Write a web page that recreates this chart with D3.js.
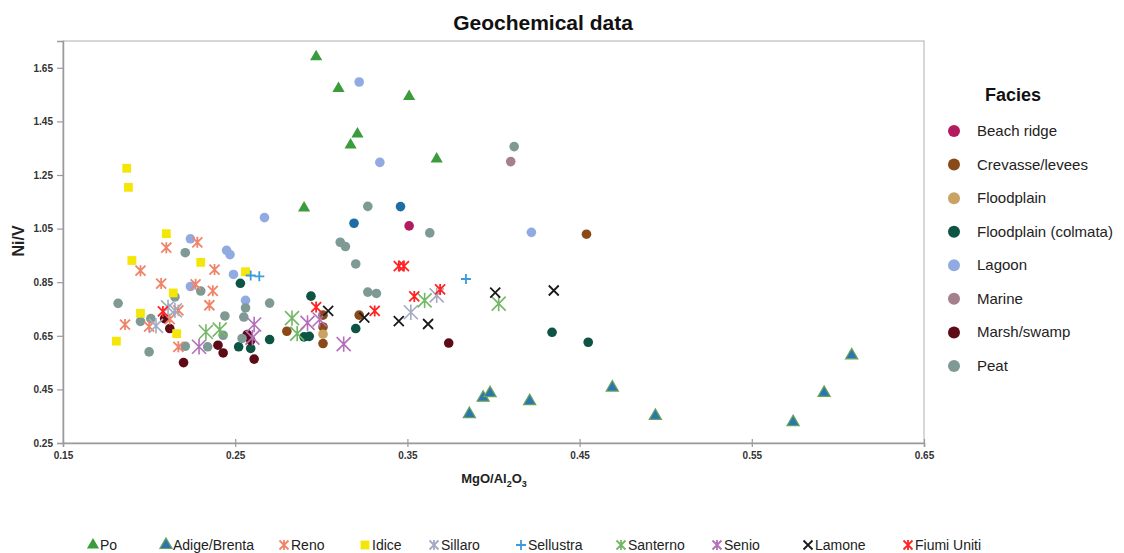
<!DOCTYPE html>
<html>
<head>
<meta charset="utf-8">
<script src="https://cdn.jsdelivr.net/npm/d3@7"></script>
<style>
  html, body { margin: 0; padding: 0; background: #fff; }
  svg { display: block; font-family: "Liberation Sans", Arial, sans-serif; }
</style>
</head>
<body>
<svg id="chart" width="1124" height="553"></svg>
<script>
// ── Data (MgO/Al2O3, Ni/V) ─────────────────────────────
const beachRidge = [[0.351, 1.060]];
const crevasse = [[0.280, 0.667], [0.301, 0.727], [0.322, 0.727], [0.301, 0.683], [0.301, 0.621], [0.454, 1.029]];
const floodplain = [[0.301, 0.656]];
const colmata = [[0.294, 0.798], [0.290, 0.646], [0.293, 0.648], [0.320, 0.677], [0.270, 0.636],
    [0.434, 0.663], [0.455, 0.626], [0.252, 0.609], [0.259, 0.603], [0.253, 0.846]];
const lagoon = [[0.322, 1.597], [0.334, 1.297], [0.267, 1.091], [0.224, 1.012], [0.245, 0.969],
    [0.247, 0.953], [0.249, 0.879], [0.224, 0.834], [0.256, 0.782], [0.422, 1.036]];
const lagoonDark = [[0.346, 1.132], [0.319, 1.070]];
const marine = [[0.410, 1.300]];
const marsh = [[0.220, 0.550], [0.243, 0.586], [0.240, 0.615], [0.261, 0.563], [0.257, 0.655],
    [0.259, 0.633], [0.212, 0.677], [0.209, 0.714], [0.374, 0.623]];
const peat = [[0.221, 0.960], [0.182, 0.771], [0.215, 0.795], [0.230, 0.817], [0.270, 0.772],
    [0.256, 0.754], [0.244, 0.724], [0.255, 0.720], [0.195, 0.704], [0.201, 0.714], [0.243, 0.652],
    [0.221, 0.611], [0.200, 0.590], [0.234, 0.609], [0.254, 0.640], [0.311, 0.999], [0.314, 0.983],
    [0.320, 0.918], [0.327, 0.813], [0.332, 0.808], [0.327, 1.133], [0.412, 1.356], [0.363, 1.034]];

const po = [[0.297, 1.691], [0.310, 1.573], [0.351, 1.543], [0.321, 1.403], [0.317, 1.362],
    [0.367, 1.310], [0.290, 1.127]];
const adigeBrenta = [[0.386, 0.358], [0.394, 0.419], [0.398, 0.436], [0.421, 0.406], [0.469, 0.457],
    [0.494, 0.351], [0.574, 0.328], [0.592, 0.437], [0.608, 0.577]];
const reno = [[0.228, 0.999], [0.210, 0.979], [0.195, 0.893], [0.238, 0.897], [0.207, 0.845],
    [0.227, 0.842], [0.237, 0.818], [0.235, 0.764], [0.186, 0.692], [0.200, 0.684], [0.217, 0.745],
    [0.217, 0.609], [0.212, 0.712]];
const idice = [[0.187, 1.275], [0.188, 1.204], [0.210, 1.031], [0.190, 0.931], [0.230, 0.924],
    [0.256, 0.889], [0.214, 0.810], [0.195, 0.734], [0.216, 0.658], [0.181, 0.630]];
const sillaro = [[0.204, 0.687], [0.211, 0.756], [0.215, 0.745], [0.352, 0.738], [0.367, 0.801]];
const sellustra = [[0.259, 0.875], [0.264, 0.872], [0.384, 0.862]];
const santerno = [[0.233, 0.664], [0.241, 0.673], [0.283, 0.716], [0.286, 0.658], [0.360, 0.782], [0.403, 0.770]];
const senio = [[0.229, 0.609], [0.261, 0.692], [0.260, 0.643], [0.292, 0.698], [0.299, 0.711], [0.313, 0.619]];
const lamone = [[0.304, 0.743], [0.325, 0.718], [0.345, 0.705], [0.362, 0.694], [0.401, 0.811], [0.435, 0.819]];
const fiumiUniti = [[0.345, 0.910], [0.348, 0.910], [0.297, 0.757], [0.331, 0.743], [0.354, 0.797],
    [0.369, 0.823], [0.208, 0.741]];

const xTicks = [0.15, 0.25, 0.35, 0.45, 0.55, 0.65];
const yTicks = [0.25, 0.45, 0.65, 0.85, 1.05, 1.25, 1.45, 1.65];

// ── Series definitions ─────────────────────────────
const facies = [
    { name: 'Beach ridge', data: beachRidge, color: '#b31b5f' },
    { name: 'Crevasse/levees', data: crevasse, color: '#8a4a17' },
    { name: 'Floodplain', data: floodplain, color: '#c9a264' },
    { name: 'Floodplain (colmata)', data: colmata, color: '#0d5445' },
    { name: 'Lagoon', data: lagoon, color: '#91abe2' },
    { name: 'Marine', data: marine, color: '#a3808c' },
    { name: 'Marsh/swamp', data: marsh, color: '#5e0b15' },
    { name: 'Peat', data: peat, color: '#7f9994' }
];
const extraDots = [
    { data: lagoonDark, color: '#1f6ea3' }
];
const rivers = [
    { name: 'Po', data: po, shape: 'tri', color: '#3b9c3c' },
    { name: 'Adige/Brenta', data: adigeBrenta, shape: 'tri', color: '#2a76ae', stroke: '#6aa25a' },
    { name: 'Reno', data: reno, shape: 'star', color: '#f08468', r: 5 },
    { name: 'Idice', data: idice, shape: 'square', color: '#f5e60a' },
    { name: 'Sillaro', data: sillaro, shape: 'star', color: '#a3abc3', r: 7 },
    { name: 'Sellustra', data: sellustra, shape: 'plus', color: '#3c9ade', r: 5 },
    { name: 'Santerno', data: santerno, shape: 'star', color: '#72b864', r: 7 },
    { name: 'Senio', data: senio, shape: 'star', color: '#b36fba', r: 7 },
    { name: 'Lamone', data: lamone, shape: 'x', color: '#1a1a1a', r: 5 },
    { name: 'Fiumi Uniti', data: fiumiUniti, shape: 'star', color: '#ff2424', r: 5 }
];

// ── Layout ─────────────────────────────
const plot = { left: 63, right: 924, top: 41, bottom: 443 };
const bottomLegendX = [93, 166, 284, 365, 434, 521, 621, 717, 808, 908];

const svg = d3.select('#chart');
const x = d3.scaleLinear().domain([0.15, 0.65]).range([plot.left, plot.right]);
const y = d3.scaleLinear().domain([0.25, 1.75]).range([plot.bottom, plot.top]);

// Title
svg.append('text')
    .attr('x', 543).attr('y', 30)
    .attr('text-anchor', 'middle')
    .style('font-size', '21px').style('font-weight', 'bold').style('fill', '#111')
    .text('Geochemical data');

// Plot frame
svg.append('rect')
    .attr('x', plot.left).attr('y', plot.top)
    .attr('width', plot.right - plot.left).attr('height', plot.bottom - plot.top)
    .attr('fill', 'none').attr('stroke', '#b0b0b0').attr('stroke-width', 1);

// Axes
const yAxis = svg.append('g')
    .attr('transform', `translate(${plot.left},0)`)
    .call(d3.axisLeft(y).tickValues(yTicks).tickSize(6).tickPadding(4).tickFormat(d3.format('.2f')));
const xAxis = svg.append('g')
    .attr('transform', `translate(0,${plot.bottom})`)
    .call(d3.axisBottom(x).tickValues(xTicks).tickSize(4).tickPadding(5).tickFormat(d3.format('.2f')));
xAxis.selectAll('.tick line').attr('y1', -4);

[xAxis, yAxis].forEach(a => {
    a.select('.domain').attr('stroke', '#9a9a9a').attr('stroke-width', 1.5);
    a.selectAll('.tick line').attr('stroke', '#9a9a9a').attr('stroke-width', 1.2);
    a.selectAll('.tick text')
        .style('font-family', '"Liberation Sans", Arial, sans-serif')
        .style('font-size', '10px').style('font-weight', 'bold').style('fill', '#333');
});

// Axis titles
const xTitle = svg.append('text')
    .attr('x', 494).attr('y', 483)
    .attr('text-anchor', 'middle')
    .style('font-size', '13px').style('font-weight', 'bold').style('fill', '#222');
xTitle.append('tspan').text('MgO/Al');
xTitle.append('tspan').attr('dy', 4).style('font-size', '9px').text('2');
xTitle.append('tspan').attr('dy', -4).text('O');
xTitle.append('tspan').attr('dy', 4).style('font-size', '9px').text('3');

svg.append('text')
    .attr('transform', 'translate(24,241) rotate(-90)')
    .attr('text-anchor', 'middle')
    .style('font-size', '16px').style('font-weight', 'bold').style('fill', '#222')
    .text('Ni/V');

// ── Marker shapes ─────────────────────────────
function markerPath(shape, r) {
    if (shape === 'star') return `M${-r},${-r}L${r},${r}M${-r},${r}L${r},${-r}M0,${-r * 1.1}L0,${r * 1.1}`;
    if (shape === 'plus') return `M${-r},0L${r},0M0,${-r}L0,${r}`;
    if (shape === 'x') return `M${-r},${-r}L${r},${r}M${-r},${r}L${r},${-r}`;
    if (shape === 'tri') return d3.symbol(d3.symbolTriangle, 64)();
    if (shape === 'square') return d3.symbol(d3.symbolSquare, 78)();
    return '';
}

function drawMarker(g, s, cx, cy) {
    const p = g.append('path')
        .attr('transform', `translate(${cx},${cy})`)
        .attr('d', markerPath(s.shape, s.r || 5));
    if (s.shape === 'tri' || s.shape === 'square') {
        p.attr('fill', s.color)
            .attr('stroke', s.stroke || 'none')
            .attr('stroke-width', s.stroke ? 1.2 : 0);
    } else {
        p.attr('fill', 'none').attr('stroke', s.color)
            .attr('stroke-width', s.shape === 'star' && s.r > 5 ? 1.6 : 1.8);
    }
    return p;
}

// ── Points ─────────────────────────────
const pts = svg.append('g');

facies.concat(extraDots).forEach(s => {
    pts.append('g').selectAll('circle')
        .data(s.data)
        .enter()
        .append('circle')
        .attr('cx', d => x(d[0]))
        .attr('cy', d => y(d[1]))
        .attr('r', 4.8)
        .attr('fill', s.color);
});

rivers.forEach(s => {
    const g = pts.append('g');
    s.data.forEach(d => drawMarker(g, s, x(d[0]), y(d[1])));
});

// ── Facies legend ─────────────────────────────
const leg = svg.append('g');
leg.append('text')
    .attr('x', 1013).attr('y', 101)
    .attr('text-anchor', 'middle')
    .style('font-size', '18px').style('font-weight', 'bold').style('fill', '#111')
    .text('Facies');

const legY = d3.scalePoint().domain(facies.map(f => f.name)).range([131, 366]);
facies.forEach(f => {
    leg.append('circle')
        .attr('cx', 954).attr('cy', legY(f.name))
        .attr('r', 6).attr('fill', f.color);
    leg.append('text')
        .attr('x', 977).attr('y', legY(f.name) + 5)
        .style('font-size', '15px').style('fill', '#222')
        .text(f.name);
});

// ── River legend ─────────────────────────────
const leg2 = svg.append('g');
rivers.forEach((s, i) => {
    const mx = bottomLegendX[i];
    drawMarker(leg2, Object.assign({}, s, { r: s.shape === 'plus' ? 5 : 4.5 }), mx, 545);
    leg2.append('text')
        .attr('x', mx + 7).attr('y', 550)
        .style('font-size', '14px').style('fill', '#222')
        .text(s.name);
});
</script>
</body>
</html>
